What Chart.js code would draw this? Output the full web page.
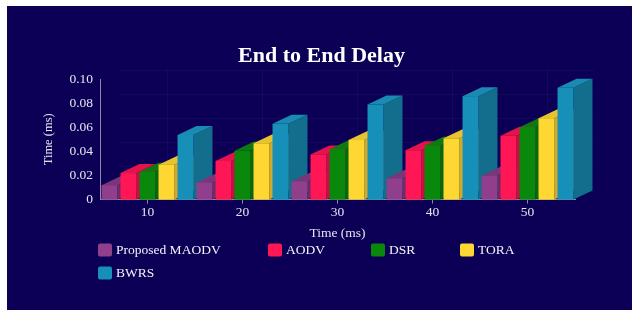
<!DOCTYPE html>
<html>
<head>
<meta charset="utf-8">
<script src="https://cdn.jsdelivr.net/npm/chart.js@4.4.1/dist/chart.umd.min.js"></script>
<style>
    html, body { margin: 0; padding: 0; background: #fff; }
    #wrap { position: absolute; left: 7px; top: 6px; width: 625px; height: 304px; background: #0b0056; }
</style>
</head>
<body>
<div id="wrap"><canvas id="delayChart" width="625" height="304"></canvas></div>
<script>
// values
const chartTitle = 'End to End Delay';
const categories = ['10', '20', '30', '40', '50'];
const seriesNames = ['Proposed MAODV', 'AODV', 'DSR', 'TORA', 'BWRS'];
const maodv = [0.012, 0.014, 0.015, 0.0175, 0.0197];
const aodv = [0.022, 0.032, 0.0375, 0.041, 0.053];
const dsr = [0.023, 0.0405, 0.0417, 0.0447, 0.060];
const tora = [0.029, 0.0467, 0.0494, 0.0508, 0.0675];
const bwrs = [0.0536, 0.0628, 0.0789, 0.0858, 0.0928];
const yTicks = [0, 0.02, 0.04, 0.06, 0.08, 0.10];

const frontColors = ['#913f8c', '#ff1654', '#0a880c', '#ffd733', '#1690b8'];
const topColors = ['#7e3479', '#e6124b', '#0d7a0f', '#e9c230', '#1a8ab0'];
const sideColors = ['#6c2c68', '#c70f40', '#076a09', '#d2a92a', '#136e8e'];

const FONT = '"Liberation Serif", "Times New Roman", serif';
const DX = 19, DY = -9; // depth of the 3d bars

const bars3d = {
    id: 'bars3d',
    beforeDatasetsDraw(chart) {
        const ctx = chart.ctx;
        const area = chart.chartArea;
        const xs = chart.scales.x, ys = chart.scales.y;

        // faint back wall grid
        ctx.save();
        ctx.strokeStyle = 'rgba(255,255,255,0.035)';
        ctx.lineWidth = 1;
        ctx.beginPath();
        categories.forEach((c, i) => {
            const x = Math.round(xs.getPixelForTick(i) + DX) + 0.5;
            ctx.moveTo(x, area.top + DY);
            ctx.lineTo(x, area.bottom + DY);
        });
        yTicks.forEach(v => {
            const y = Math.round(ys.getPixelForValue(v) + DY) + 0.5;
            ctx.moveTo(area.left + DX, y);
            ctx.lineTo(area.right + DX, y);
        });
        ctx.stroke();

        // bars, group by group, left to right so each front face hides the previous side
        categories.forEach((c, i) => {
            chart.data.datasets.forEach((ds, d) => {
                const el = chart.getDatasetMeta(d).data[i];
                const p = el.getProps(['x', 'y', 'base', 'width'], true);
                const l = p.x - p.width / 2, r = p.x + p.width / 2;

                ctx.fillStyle = sideColors[d];
                ctx.beginPath();
                ctx.moveTo(r, p.y);
                ctx.lineTo(r + DX, p.y + DY);
                ctx.lineTo(r + DX, p.base + DY);
                ctx.lineTo(r, p.base);
                ctx.closePath();
                ctx.fill();

                ctx.fillStyle = topColors[d];
                ctx.beginPath();
                ctx.moveTo(l, p.y);
                ctx.lineTo(l + DX, p.y + DY);
                ctx.lineTo(r + DX, p.y + DY);
                ctx.lineTo(r, p.y);
                ctx.closePath();
                ctx.fill();

                ctx.fillStyle = frontColors[d];
                ctx.fillRect(l, p.y, p.width, p.base - p.y);
            });
        });
        ctx.restore();
        return false;
    }
};

const legendCols = [0, 170, 273, 362];
const legendRows = [50, 73]; // below the plot bottom

const titleAndLegend = {
    id: 'titleAndLegend',
    afterDraw(chart) {
        const ctx = chart.ctx;
        const area = chart.chartArea;
        ctx.save();
        // title centred on the whole panel
        ctx.font = 'bold 22px ' + FONT;
        ctx.fillStyle = '#ffffff';
        ctx.textAlign = 'center';
        ctx.textBaseline = 'alphabetic';
        ctx.fillText(chartTitle, chart.width / 2 + 2, 56);

        ctx.font = '13.5px ' + FONT;
        ctx.textAlign = 'left';
        ctx.textBaseline = 'middle';
        seriesNames.forEach((name, k) => {
            const x = area.left - 2 + legendCols[k % 4];
            const y = area.bottom + legendRows[Math.floor(k / 4)];
            ctx.fillStyle = frontColors[k];
            ctx.beginPath();
            ctx.roundRect(x, y - 6, 14, 13, 2);
            ctx.fill();
            ctx.fillStyle = '#f4f4fa';
            ctx.fillText(name, x + 18, y + 1);
        });
        ctx.restore();
    }
};

const seriesData = [maodv, aodv, dsr, tora, bwrs];

new Chart(document.getElementById('delayChart'), {
    type: 'bar',
    data: {
        labels: categories,
        datasets: seriesNames.map((name, k) => ({
            label: name,
            data: seriesData[k],
            backgroundColor: frontColors[k],
            barPercentage: 0.84,
            categoryPercentage: 1.0
        }))
    },
    options: {
        responsive: false,
        animation: false,
        layout: { padding: { left: 30, right: 57, top: 73, bottom: 68 } },
        plugins: {
            legend: { display: false },
            tooltip: { enabled: false },
            title: { display: false }
        },
        scales: {
            x: {
                grid: { drawOnChartArea: false, drawTicks: true, tickLength: 4, offset: false, color: '#8a8aa0' },
                border: { display: true, color: '#8a8aa0' },
                ticks: { color: '#e4e4f0', font: { family: FONT, size: 13.5 }, padding: 1 },
                title: {
                    display: true, text: 'Time (ms)', color: '#e4e4f0',
                    font: { family: FONT, size: 13.5 }, padding: { top: 4, bottom: 0 }
                }
            },
            y: {
                min: 0,
                max: 0.1,
                afterBuildTicks(scale) { scale.ticks = yTicks.map(v => ({ value: v })); },
                afterFit(scale) { scale.width = 63; },
                grid: { display: false, drawTicks: false },
                border: { display: true, color: '#8a8aa0' },
                ticks: {
                    color: '#e4e4f0', font: { family: FONT, size: 13.5 }, padding: 7,
                    callback: v => v === 0 ? '0' : v.toFixed(2)
                },
                title: {
                    display: true, text: 'Time (ms)', color: '#e4e4f0',
                    font: { family: FONT, size: 12.5 }, padding: { top: 4, bottom: 0 }
                }
            }
        }
    },
    plugins: [bars3d, titleAndLegend]
});
</script>
</body>
</html>
